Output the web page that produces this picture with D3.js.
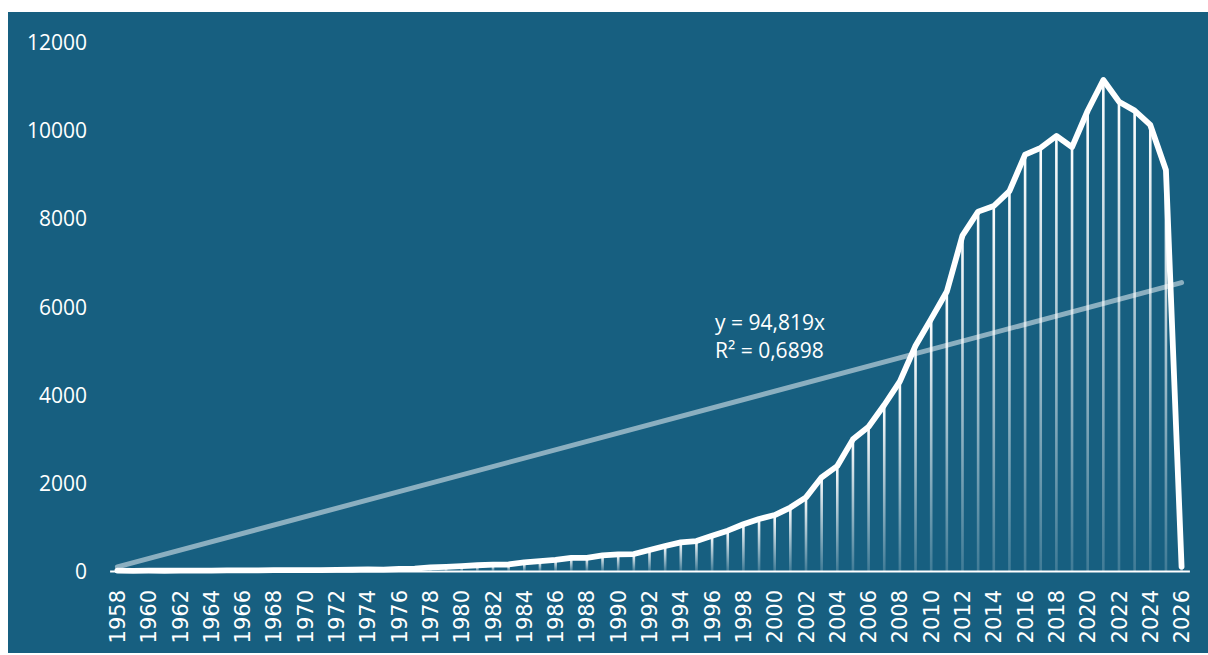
<!DOCTYPE html>
<html>
<head>
<meta charset="utf-8">
<script src="https://cdn.jsdelivr.net/npm/d3@7"></script>
<style>
  html, body { margin: 0; padding: 0; background: #ffffff; }
  svg { display: block; }
</style>
</head>
<body>
<svg id="chart" width="1208" height="655"></svg>
<script>
// ---- data ----
const years = d3.range(1958, 2027);
const values = [
  10, 5, 8, 6, 8, 10, 10, 12, 12, 15,          // 1958-1967
  18, 18, 20, 22, 25, 28, 35, 32, 45, 55,      // 1968-1977
  80, 95, 112, 130, 145, 148, 195, 225, 250, 300, // 1978-1987
  300, 355, 378, 385, 476, 567, 650, 680, 800, 915, // 1988-1997
  1060, 1180, 1270, 1440, 1670, 2125, 2382, 2986, 3273, 3766, // 1998-2007
  4300, 5110, 5720, 6340, 7610, 8152, 8280, 8615, 9445, 9600, // 2008-2017
  9868, 9615, 10440, 11139, 10647, 10443, 10118, 9097, 100     // 2018-2026
];
const yTicks = [0, 2000, 4000, 6000, 8000, 10000, 12000];
const xTickYears = years.filter(y => y % 2 === 0);
const trendSlope = 94.819;
const trendLabels = ["y = 94,819x", "R² = 0,6898"];

// ---- layout ----
const svg = d3.select("#chart");
const W = 1208, H = 655;
const bg = "#175f80";

svg.append("rect").attr("x", 8).attr("y", 12).attr("width", W - 8).attr("height", H - 14).attr("fill", bg);

const x = d3.scaleBand().domain(years).range([109.6, 1189.4]).padding(0);
const cx = d => x(d) + x.bandwidth() / 2;
const y = d3.scaleLinear().domain([0, 12000]).range([571, 42]);

const defs = svg.append("defs");
const grad = defs.append("linearGradient").attr("id", "dropGrad")
  .attr("x1", 0).attr("y1", 0).attr("x2", 0).attr("y2", 1);
grad.append("stop").attr("offset", "0%").attr("stop-color", "#ffffff").attr("stop-opacity", 1);
grad.append("stop").attr("offset", "100%").attr("stop-color", "#ffffff").attr("stop-opacity", 0.18);

const data = years.map((yr, i) => ({ yr, v: values[i] }));

// drop lines
svg.append("g").selectAll("rect").data(data.filter(d => y(0) - y(d.v) > 1)).join("rect")
  .attr("x", d => cx(d.yr) - 1.3)
  .attr("width", 2.6)
  .attr("y", d => y(d.v))
  .attr("height", d => y(0) - y(d.v))
  .attr("fill", "url(#dropGrad)");

// x axis
const xAxis = d3.axisBottom(x).tickValues(xTickYears).tickSize(0).tickSizeOuter(0).tickPadding(0);
const gx = svg.append("g").attr("transform", `translate(0,${y(0)})`).call(xAxis);
gx.select(".domain").attr("stroke", "#ffffff").attr("stroke-width", 1.8);
gx.selectAll(".tick text")
  .attr("fill", "#ffffff")
  .attr("font-family", "DejaVu Sans, sans-serif")
  .attr("font-size", 21)
  .attr("text-anchor", "end")
  .attr("transform", "translate(0,19) rotate(-90)")
  .attr("x", 0).attr("y", 0).attr("dy", "0.36em");

// y axis
const yAxis = d3.axisLeft(y).tickValues(yTicks).tickSize(0).tickPadding(0).tickFormat(d3.format("d"));
const gy = svg.append("g").attr("transform", "translate(87,0)").call(yAxis);
gy.select(".domain").remove();
gy.selectAll(".tick text")
  .attr("fill", "#ffffff")
  .attr("font-family", "Open Sans, sans-serif")
  .attr("font-size", 21)
  .attr("dy", "0.36em");

// trend line
const trend = years.map((yr, i) => ({ yr, v: trendSlope * (i + 1) }));
const tEnds = [trend[0], trend[trend.length - 1]];
svg.append("path")
  .attr("d", d3.line().x(d => cx(d.yr)).y(d => y(d.v))(tEnds))
  .attr("fill", "none")
  .attr("stroke", "rgba(255,255,255,0.5)")
  .attr("stroke-width", 5)
  .attr("stroke-linecap", "round");

// data line
svg.append("path")
  .attr("d", d3.line().x(d => cx(d.yr)).y(d => y(d.v))(data))
  .attr("fill", "none")
  .attr("stroke", "#ffffff")
  .attr("stroke-width", 5.8)
  .attr("stroke-linejoin", "round")
  .attr("stroke-linecap", "round");

// trend label
const lbl = svg.append("text")
  .attr("fill", "#ffffff")
  .attr("font-family", "Open Sans, sans-serif")
  .attr("font-size", 21);
trendLabels.forEach((t, i) => {
  lbl.append("tspan").attr("x", 715).attr("y", 330 + i * 28).text(t);
});
</script>
</body>
</html>
